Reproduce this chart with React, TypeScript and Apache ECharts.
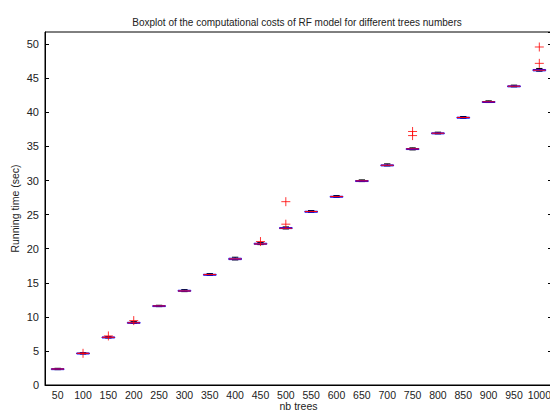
import React, { useEffect, useRef } from "react";
import * as echarts from "echarts";

const categories = ["50", "100", "150", "200", "250", "300", "350", "400", "450", "500", "550", "600", "650", "700", "750", "800", "850", "900", "950", "1000"];
const lowerWhisker = [2.25, 4.55, 6.9, 9.05, 11.5, 13.7, 16.1, 18.35, 20.6, 22.9, 25.35, 27.55, 29.85, 32.15, 34.5, 36.85, 39.15, 41.45, 43.75, 46.05];
const q1 = [2.3, 4.6, 6.95, 9.08, 11.55, 13.75, 16.15, 18.4, 20.65, 22.95, 25.4, 27.6, 29.9, 32.2, 34.55, 36.9, 39.2, 41.5, 43.8, 46.1];
const median = [2.35, 4.65, 7.0, 9.13, 11.6, 13.8, 16.2, 18.5, 20.7, 23.0, 25.45, 27.65, 29.95, 32.25, 34.65, 36.95, 39.25, 41.55, 43.85, 46.2];
const q3 = [2.4, 4.7, 7.05, 9.2, 11.65, 13.9, 16.25, 18.6, 20.8, 23.1, 25.5, 27.7, 30.0, 32.3, 34.7, 37.0, 39.3, 41.6, 43.9, 46.3];
const upperWhisker = [2.45, 4.75, 7.1, 9.3, 11.7, 14.0, 16.35, 18.75, 20.9, 23.2, 25.6, 27.8, 30.1, 32.45, 34.8, 37.1, 39.4, 41.7, 44.0, 46.45];
const outlierCategories = ["100", "150", "200", "450", "500", "500", "750", "750", "1000", "1000"];
const outlierValues = [4.65, 7.2, 9.45, 21.05, 26.9, 23.6, 37.2, 36.6, 49.6, 47.2];
const yTickInterval = 5;
const yMin = 0;
const yMax = 51.8;

const FONT = "Liberation Sans, Arial, Helvetica, sans-serif";

export default function App() {
  const ref = useRef<HTMLDivElement>(null);
  useEffect(() => {
    if (!ref.current) return;
    const chart = echarts.init(ref.current, undefined, { renderer: "svg" });
    const boxData = categories.map((c, i) => [i, lowerWhisker[i], q1[i], median[i], q3[i], upperWhisker[i]]);
    const outlierData = outlierCategories.map((c, i) => [c, outlierValues[i]]);
    const axisLineStyle = { color: "#000", width: 1 };
    chart.setOption({
      animation: false,
      backgroundColor: "#fff",
      textStyle: { fontFamily: FONT },
      title: {
        text: "Boxplot of the computational costs of RF model for different trees numbers",
        left: 292,
        textAlign: "center",
        top: 12,
        textStyle: { fontSize: 10, fontWeight: "normal", color: "#222", fontFamily: FONT },
      },
      grid: {
        left: 45,
        right: -2,
        top: 32,
        bottom: 27,
        containLabel: false,
        outerBoundsMode: "none",
        show: true,
        borderColor: "#000",
        borderWidth: 1,
        backgroundColor: "#fff",
      },
      xAxis: {
        type: "category",
        data: categories,
        boundaryGap: true,
        name: "nb trees",
        nameLocation: "middle",
        nameGap: 15,
        nameMoveOverlap: false,
        nameTextStyle: { fontSize: 10.5, lineHeight: 11, color: "#222", fontFamily: FONT },
        axisLine: { lineStyle: axisLineStyle },
        axisTick: { inside: true, alignWithLabel: true, length: 4, lineStyle: { color: "#000" } },
        axisLabel: { fontSize: 10.5, lineHeight: 11, color: "#222", margin: 4, interval: 0, hideOverlap: false, fontFamily: FONT },
        splitLine: { show: false },
      },
      yAxis: [
        {
          type: "value",
          min: yMin,
          max: yMax,
          interval: yTickInterval,
          name: "Running time (sec)",
          nameLocation: "middle",
          nameGap: 25,
          nameMoveOverlap: false,
          nameTextStyle: { fontSize: 10.5, color: "#222", fontFamily: FONT },
          axisLine: { show: true, lineStyle: axisLineStyle },
          axisTick: { show: true, inside: true, length: 4, lineStyle: { color: "#000" } },
          axisLabel: { fontSize: 11, color: "#222", margin: 6, showMaxLabel: false, fontFamily: FONT },
          splitLine: { show: false },
        },
        {
          type: "value",
          position: "right",
          min: yMin,
          max: yMax,
          interval: yTickInterval,
          axisLine: { show: true, lineStyle: axisLineStyle },
          axisTick: { show: true, inside: true, length: 4, lineStyle: { color: "#000" } },
          axisLabel: { show: false },
          splitLine: { show: false },
        },
      ],
      series: [
        {
          type: "custom",
          xAxisIndex: 0,
          yAxisIndex: 0,
          encode: { x: 0, y: [1, 2, 3, 4, 5] },
          data: boxData,
          renderItem: (params: any, api: any) => {
            const xi = api.value(0);
            const bw = api.size([1, 0])[0] * 0.5;
            const pLw = api.coord([xi, api.value(1)]);
            const pQ1 = api.coord([xi, api.value(2)]);
            const pMed = api.coord([xi, api.value(3)]);
            const pQ3 = api.coord([xi, api.value(4)]);
            const pUw = api.coord([xi, api.value(5)]);
            const cx = pMed[0];
            const half = bw / 2;
            const capHalf = bw / 4;
            return {
              type: "group",
              children: [
                { type: "line", shape: { x1: cx, y1: pUw[1], x2: cx, y2: pQ3[1] }, style: { stroke: "#000", lineWidth: 1, lineDash: [3, 2] } },
                { type: "line", shape: { x1: cx, y1: pQ1[1], x2: cx, y2: pLw[1] }, style: { stroke: "#000", lineWidth: 1, lineDash: [3, 2] } },
                { type: "line", shape: { x1: cx - capHalf, y1: pUw[1], x2: cx + capHalf, y2: pUw[1] }, style: { stroke: "#000", lineWidth: 1 } },
                { type: "line", shape: { x1: cx - capHalf, y1: pLw[1], x2: cx + capHalf, y2: pLw[1] }, style: { stroke: "#000", lineWidth: 1 } },
                { type: "rect", shape: { x: cx - half, y: pQ3[1], width: bw, height: Math.max(pQ1[1] - pQ3[1], 1) }, style: { stroke: "#0000ff", fill: "none", lineWidth: 1 } },
                { type: "line", shape: { x1: cx - half, y1: pMed[1], x2: cx + half, y2: pMed[1] }, style: { stroke: "#ff0000", lineWidth: 1 } },
              ],
            };
          },
          z: 2,
        },
        {
          type: "scatter",
          xAxisIndex: 0,
          yAxisIndex: 0,
          data: outlierData,
          symbol: "path://M0,5L10,5M5,0L5,10",
          symbolSize: 9,
          itemStyle: { color: "rgba(0,0,0,0)", borderColor: "#ff0000", borderWidth: 1 },
          z: 3,
        },
      ],
    });
    return () => chart.dispose();
  }, []);
  return <div ref={ref} style={{ position: "fixed", left: 0, top: 0, width: 550, height: 412 }} />;
}
